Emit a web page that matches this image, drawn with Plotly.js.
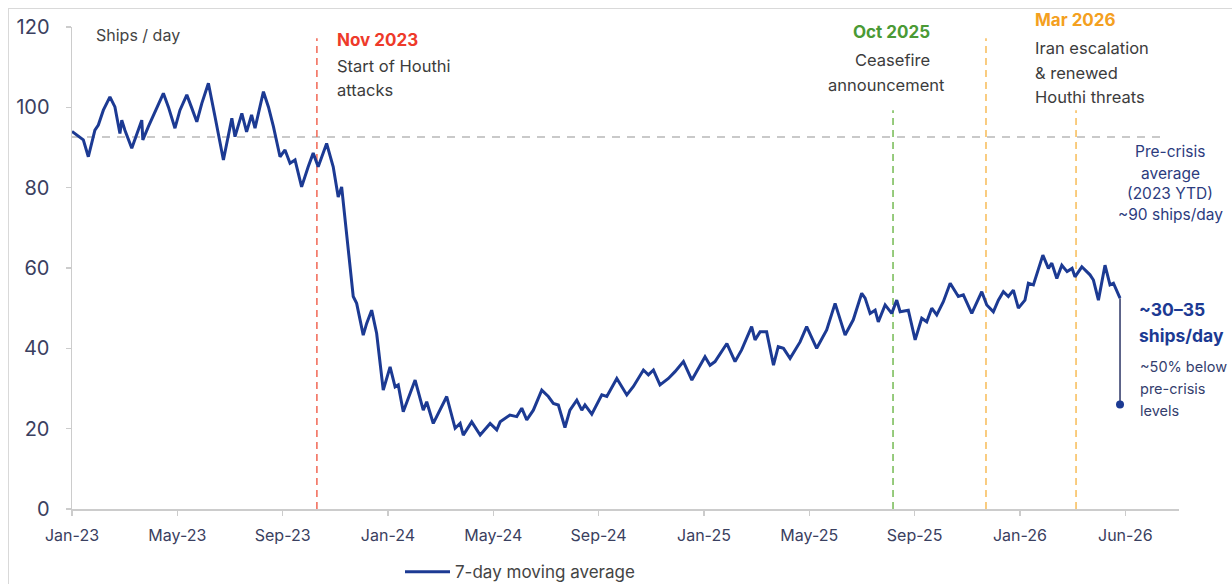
<!DOCTYPE html>
<html>
<head>
<meta charset="utf-8">
<script src="https://cdn.plot.ly/plotly-3.0.1.min.js"></script>
<style>
  html, body { margin: 0; padding: 0; background: #ffffff; }
  #wrap { position: relative; width: 1232px; height: 584px; overflow: hidden; }
  #chart { position: absolute; left: 0; top: 0; width: 1232px; height: 584px; }
  #frame { position: absolute; left: 8px; top: 8px; right: -10px; bottom: -10px;
           border-top: 1.5px solid #d9d9d9; border-left: 1.5px solid #d9d9d9; pointer-events: none; }
</style>
</head>
<body>
<div id="wrap"><div id="chart"></div><div id="frame"></div></div>
<script>
// ---- Data (x = months since Jan 2023) ----
const months = [0.00,0.30,0.43,0.62,0.87,1.00,1.19,1.44,1.63,1.82,1.89,2.01,2.27,2.65,2.69,2.90,3.22,3.47,3.66,3.91,
  4.10,4.36,4.55,4.74,4.93,5.18,5.43,5.75,6.07,6.19,6.45,6.63,6.82,6.95,7.27,7.46,7.65,7.90,8.09,8.28,
  8.47,8.72,8.97,9.16,9.35,9.67,9.92,10.11,10.24,10.43,10.68,10.81,11.06,11.19,11.38,11.57,11.82,12.08,12.27,12.39,
  12.58,13.03,13.34,13.47,13.72,14.23,14.55,14.74,14.86,15.18,15.50,15.88,16.13,16.26,16.63,16.89,17.08,17.27,17.52,17.84,
  18.09,18.28,18.47,18.72,18.91,19.17,19.36,19.48,19.74,20.12,20.31,20.69,21.07,21.32,21.70,21.89,22.08,22.33,22.65,22.90,
  23.22,23.54,24.04,24.23,24.42,24.87,25.18,25.43,25.81,25.94,26.13,26.38,26.64,26.82,27.02,27.27,27.65,27.90,28.28,28.66,
  28.98,29.36,29.67,29.99,30.12,30.31,30.50,30.62,30.88,31.13,31.32,31.45,31.76,32.02,32.27,32.46,32.65,32.84,33.09,33.35,
  33.66,33.85,34.17,34.55,34.74,34.99,35.18,35.37,35.56,35.75,35.94,36.19,36.32,36.51,36.87,37.08,37.21,37.40,37.59,37.79,
  37.98,38.09,38.35,38.66,38.79,38.98,39.23,39.42,39.55,39.80];
const shipsPerDay = [94.0,92.4,91.9,87.7,94.3,95.6,99.3,102.6,100.1,93.5,96.8,94.3,89.8,96.8,91.9,95.2,100.1,103.5,100.1,94.8,
  99.3,103.1,99.8,96.4,101.0,106.0,97.7,86.9,97.3,92.7,98.5,93.9,98.1,94.8,103.9,100.1,95.2,87.7,89.4,86.1,
  86.9,80.2,85.2,88.6,85.2,91.0,85.2,77.7,80.2,68.6,52.9,51.2,43.3,46.2,49.5,43.7,29.6,35.4,30.4,30.9,
  24.2,32.1,24.6,26.7,21.3,28.0,20.1,21.3,18.4,21.7,18.4,21.3,19.7,21.7,23.4,23.0,25.1,22.2,24.6,29.6,
  28.0,26.3,25.9,20.3,24.6,27.1,24.6,25.9,23.6,28.4,28.0,32.5,28.4,30.5,34.6,33.4,34.6,30.9,32.5,34.2,
  36.7,32.1,37.9,35.8,36.7,41.2,36.7,39.6,45.4,42.1,44.1,44.1,35.8,40.4,40.0,37.5,41.6,45.4,40.0,44.6,
  51.2,43.3,47.1,53.7,52.5,48.7,49.5,46.6,50.8,48.7,52.0,49.1,49.5,42.1,47.5,46.6,50.0,48.3,51.6,56.2,
  52.9,53.3,48.7,54.1,50.8,49.1,52.0,54.1,52.9,54.5,50.0,52.0,56.2,55.8,63.2,59.9,61.2,57.4,60.7,59.1,
  59.9,57.8,60.3,58.3,57.0,52.0,60.7,55.8,56.2,52.5];

const tickMonths = [0,4,8,12,16,20,24,28,32,36,40];
const tickLabels = ["Jan-23","May-23","Sep-23","Jan-24","May-24","Sep-24","Jan-25","May-25","Sep-25","Jan-26","Jun-26"];
const yTicks = [0,20,40,60,80,100,120];

const eventMonths = [9.30, 31.18, 34.71, 38.13];
const eventTops   = [117.2, 99.3, 117.2, 99.3];
const eventColors = ["#f2705f", "#7dbf5e", "#f8c062", "#f8c062"];

const preCrisisAvg = 92.6;
const preCrisisEndMonth = 41.32;
const currentLevelLow = 26;

const seriesName = "7-day moving average";
const navy = "#1c3a93";
const FONT = "Inter, 'Open Sans', sans-serif";

// ---- Traces ----
const lastX = months[months.length - 1];
const lastY = shipsPerDay[shipsPerDay.length - 1];

const traces = [
  {
    x: months, y: shipsPerDay, type: "scatter", mode: "lines", name: seriesName,
    line: { color: navy, width: 3 }, hoverinfo: "x+y"
  },
  {
    x: [lastX, lastX], y: [lastY, currentLevelLow], type: "scatter", mode: "lines",
    line: { color: "#2b3566", width: 1.5 }, showlegend: false, hoverinfo: "skip"
  },
  {
    x: [lastX], y: [currentLevelLow], type: "scatter", mode: "markers",
    marker: { color: navy, size: 8 }, showlegend: false, hoverinfo: "y"
  }
];

// ---- Shapes ----
const shapes = [
  { type: "line", xref: "x", yref: "y", x0: 0, x1: preCrisisEndMonth, y0: preCrisisAvg, y1: preCrisisAvg,
    line: { color: "#c9c9c9", width: 2, dash: "8px,7px" }, layer: "below" }
];
eventMonths.forEach((m, i) => {
  shapes.push({ type: "line", xref: "x", yref: "y", x0: m, x1: m, y0: 0, y1: eventTops[i],
    line: { color: eventColors[i], width: 1.6, dash: "7px,5px" }, layer: "below" });
});

// ---- Annotations ----
const BODY = 16.5, HEAD = 17;
function ann(text, xref, x, y, opts) {
  return Object.assign({ text: text, xref: xref, x: x, yref: "paper", y: y, showarrow: false,
    xanchor: "left", yanchor: "middle", font: { family: FONT, size: BODY, color: "#3c3c3c" } }, opts || {});
}
const preFont = { family: FONT, size: 15.5, color: "#2c3b7e" };
const smallFont = { family: FONT, size: 14.5, color: "#34406e" };
const bigFont = { family: FONT, size: 17.5, color: navy };
const annotations = [
  ann("Ships / day", "x", 0, 0.983, { xshift: 22, font: { family: FONT, size: 16, color: "#444" } }),

  ann("<b>Nov 2023</b>", "x", eventMonths[0], 0.973, { xshift: 18, font: { family: FONT, size: HEAD, color: "#ee3a2a" } }),
  ann("Start of Houthi", "x", eventMonths[0], 0.919, { xshift: 18 }),
  ann("attacks", "x", eventMonths[0], 0.869, { xshift: 18 }),

  ann("<b>Oct 2025</b>", "x", eventMonths[1], 0.990, { xanchor: "center", xshift: -2, font: { family: FONT, size: HEAD, color: "#4a9a35" } }),
  ann("Ceasefire", "x", eventMonths[1], 0.932, { xanchor: "center", xshift: -1 }),
  ann("announcement", "x", eventMonths[1], 0.880, { xanchor: "center", xshift: -7 }),

  ann("<b>Mar 2026</b>", "x", eventMonths[3], 1.015, { xshift: -43, font: { family: FONT, size: HEAD, color: "#f4a020" } }),
  ann("Iran escalation", "x", eventMonths[3], 0.956, { xshift: -43 }),
  ann("&amp; renewed", "x", eventMonths[3], 0.905, { xshift: -43 }),
  ann("Houthi threats", "x", eventMonths[3], 0.855, { xshift: -43 }),

  ann("Pre-crisis", "paper", 0.992, 0.742, { xanchor: "center", font: preFont }),
  ann("average", "paper", 0.992, 0.697, { xanchor: "center", font: preFont }),
  ann("(2023 YTD)", "paper", 0.992, 0.654, { xanchor: "center", font: preFont }),
  ann("~90 ships/day", "paper", 0.992, 0.612, { xanchor: "center", font: preFont }),

  ann("<b>~30–35</b>", "x", lastX, 0.413, { xshift: 17, font: bigFont }),
  ann("<b>ships/day</b>", "x", lastX, 0.359, { xshift: 17, font: bigFont }),
  ann("~50% below", "x", lastX, 0.295, { xshift: 18, font: smallFont }),
  ann("pre-crisis", "x", lastX, 0.249, { xshift: 18, font: smallFont }),
  ann("levels", "x", lastX, 0.205, { xshift: 18, font: smallFont })
];

const layout = {
  width: 1232, height: 584,
  margin: { l: 72, r: 53, t: 27, b: 75, autoexpand: false },
  paper_bgcolor: "#ffffff", plot_bgcolor: "#ffffff",
  font: { family: FONT, color: "#3a4060" },
  showlegend: true,
  legend: { orientation: "h", x: 0.2963, y: -0.131, xanchor: "left", yanchor: "middle", itemwidth: 45,
            font: { family: FONT, size: 17, color: "#444" }, bgcolor: "rgba(0,0,0,0)" },
  xaxis: {
    range: [0, 42.04], tickmode: "array", tickvals: tickMonths, ticktext: tickLabels,
    showgrid: false, zeroline: false, showline: true, linecolor: "#cccccc", linewidth: 1.5,
    ticks: "outside", ticklen: 5, tickcolor: "#cccccc", tickwidth: 1.5,
    tickfont: { family: FONT, size: 16, color: "#3a4060" }, ticklabelstandoff: 6
  },
  yaxis: {
    range: [0, 120], tickmode: "array", tickvals: yTicks,
    showgrid: false, zeroline: false, showline: true, linecolor: "#cccccc", linewidth: 1.5,
    ticks: "outside", ticklen: 5, tickcolor: "#cccccc", tickwidth: 1.5,
    tickfont: { family: FONT, size: 20, color: "#3a4060" }, ticklabelstandoff: 12
  },
  shapes: shapes,
  annotations: annotations
};

Plotly.newPlot("chart", traces, layout, { displayModeBar: false, staticPlot: true });
</script>
</body>
</html>
